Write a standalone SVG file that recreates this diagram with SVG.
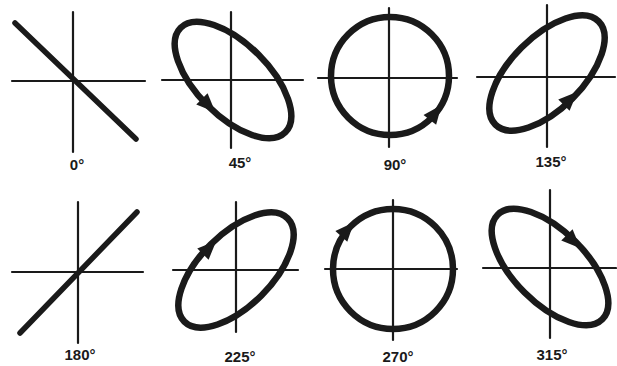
<svg xmlns="http://www.w3.org/2000/svg" width="617" height="366" viewBox="0 0 617 366">
<style>
.ax{stroke:#1a1a1a;stroke-width:2.2;fill:none;stroke-linecap:round}
.tr{stroke:#1a1a1a;stroke-width:6.5;fill:none;stroke-linecap:round}
.ln{stroke:#1a1a1a;stroke-width:5.5;fill:none;stroke-linecap:round}
.lb{font-family:"Liberation Sans",Arial,sans-serif;font-weight:bold;font-size:15px;fill:#1a1a1a;text-anchor:middle}
</style>
<defs>
<polygon id="ah" points="9,0 -10,-8 -10,8" fill="#1a1a1a"/>
</defs>
<rect width="617" height="366" fill="#ffffff"/>
<g id="p0">
<line class="ax" x1="73" y1="12" x2="73" y2="152"/>
<line class="ax" x1="12" y1="81" x2="145" y2="81"/>
<line class="ln" x1="15" y1="23" x2="136" y2="139"/>
<text class="lb" x="77" y="170">0°</text>
</g>
<g id="p45">
<line class="ax" x1="231" y1="12" x2="231" y2="148"/>
<line class="ax" x1="162" y1="80" x2="303" y2="80"/>
<ellipse class="tr" cx="233" cy="80" rx="74" ry="36" transform="rotate(45 233 80)"/>
<use href="#ah" transform="translate(209 106) rotate(45)"/>
<text class="lb" x="240" y="168">45°</text>
</g>
<g id="p90">
<line class="ax" x1="389" y1="8" x2="389" y2="147"/>
<line class="ax" x1="318" y1="78" x2="457" y2="78"/>
<circle class="tr" cx="390" cy="76" r="59"/>
<use href="#ah" transform="translate(436 112) rotate(-52)"/>
<text class="lb" x="395" y="170">90°</text>
</g>
<g id="p135">
<line class="ax" x1="547" y1="5" x2="547" y2="147"/>
<line class="ax" x1="477" y1="77" x2="615" y2="77"/>
<ellipse class="tr" cx="547" cy="73" rx="73" ry="36" transform="rotate(-45 547 73)"/>
<use href="#ah" transform="translate(571 98) rotate(-45)"/>
<text class="lb" x="551" y="167">135°</text>
</g>
<g id="p180">
<line class="ax" x1="78" y1="202" x2="78" y2="343"/>
<line class="ax" x1="12" y1="272" x2="143" y2="272"/>
<line class="ln" x1="20" y1="333" x2="137" y2="212"/>
<text class="lb" x="80" y="360">180°</text>
</g>
<g id="p225">
<line class="ax" x1="236" y1="202" x2="236" y2="332"/>
<line class="ax" x1="173" y1="270" x2="298" y2="270"/>
<ellipse class="tr" cx="236" cy="270" rx="73" ry="36" transform="rotate(-45 236 270)"/>
<use href="#ah" transform="translate(210 247) rotate(-45)"/>
<text class="lb" x="240" y="362">225°</text>
</g>
<g id="p270">
<line class="ax" x1="393" y1="200" x2="393" y2="340"/>
<line class="ax" x1="325" y1="269" x2="457" y2="269"/>
<circle class="tr" cx="393" cy="269" r="60"/>
<use href="#ah" transform="translate(348 229) rotate(-48)"/>
<text class="lb" x="398" y="362">270°</text>
</g>
<g id="p315">
<line class="ax" x1="550" y1="190" x2="550" y2="338"/>
<line class="ax" x1="483" y1="268" x2="616" y2="268"/>
<ellipse class="tr" cx="550" cy="267" rx="74" ry="36" transform="rotate(45 550 267)"/>
<use href="#ah" transform="translate(574 242) rotate(45)"/>
<text class="lb" x="552" y="360">315°</text>
</g>
</svg>
